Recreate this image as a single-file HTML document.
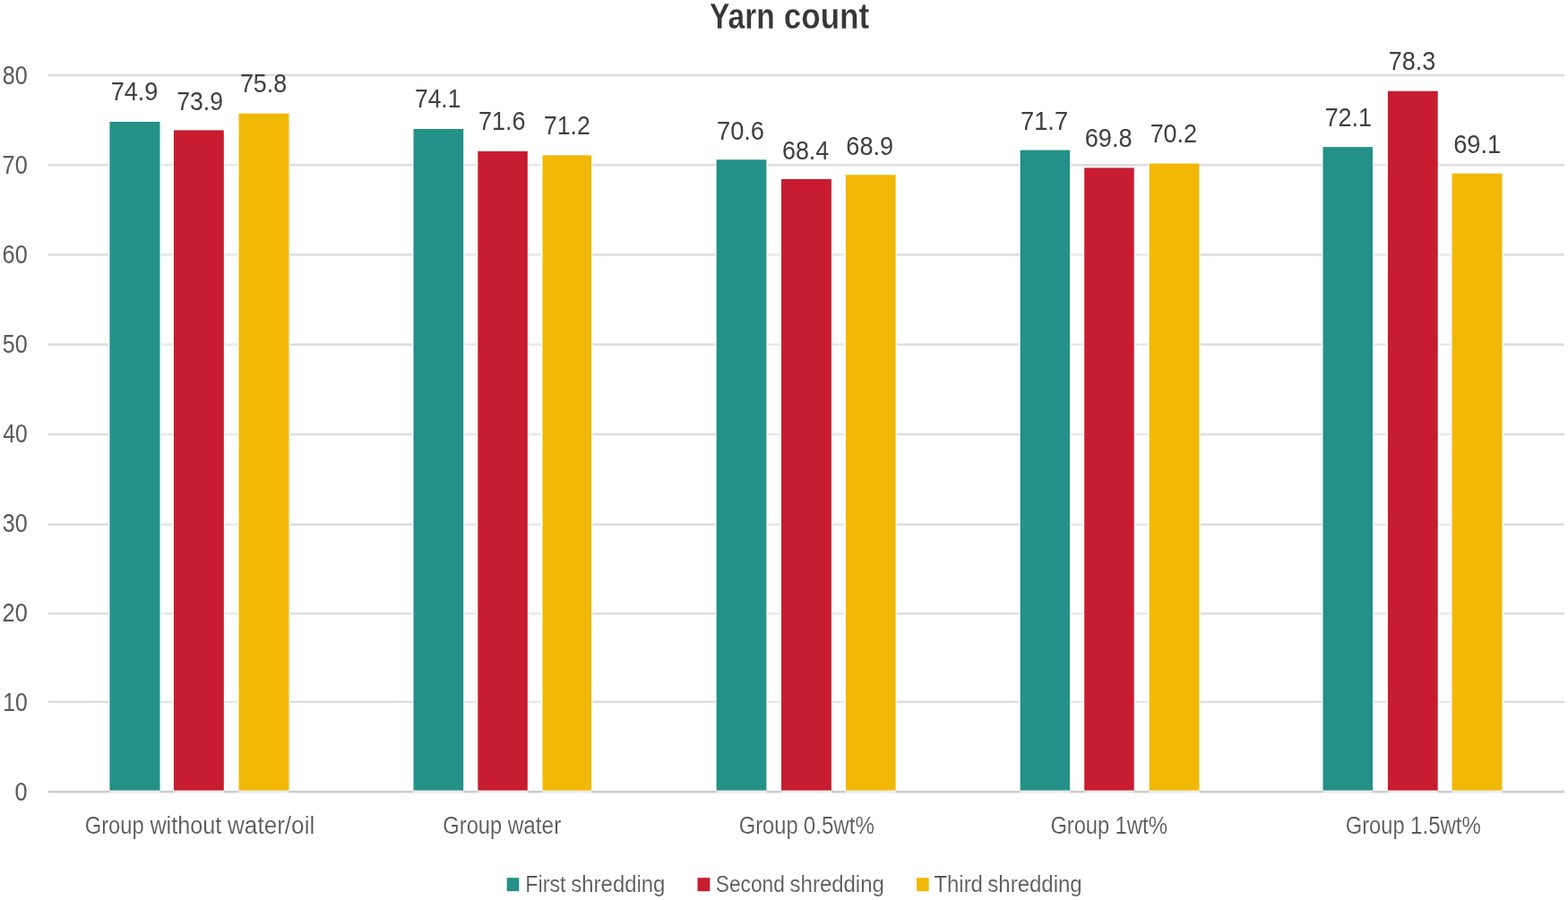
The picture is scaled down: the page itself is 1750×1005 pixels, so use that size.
<!DOCTYPE html>
<html lang="en">
<head>
<meta charset="utf-8">
<title>Yarn count</title>
<style>
html,body{margin:0;padding:0;background:#fff;}
body{width:1750px;height:1005px;overflow:hidden;}
svg{display:block;}
text{font-family:"Liberation Sans",sans-serif;}
</style>
</head>
<body>
<svg width="1750" height="1005" viewBox="0 0 1750 1005" role="img" aria-label="Yarn count bar chart">
<rect x="0" y="0" width="1750" height="1005" fill="#ffffff"/>
<g fill="#dedede">
<rect x="53.8" y="82.7" width="1692.2" height="2.6"/>
<rect x="53.8" y="183" width="1692.2" height="2.6"/>
<rect x="53.8" y="283.1" width="1692.2" height="2.6"/>
<rect x="53.8" y="383.4" width="1692.2" height="2.6"/>
<rect x="53.8" y="483.7" width="1692.2" height="2.6"/>
<rect x="53.8" y="584.35" width="1692.2" height="2.6"/>
<rect x="53.8" y="683.8" width="1692.2" height="2.6"/>
<rect x="53.8" y="782.5" width="1692.2" height="2.6"/>
</g>
<rect x="53.8" y="882.85" width="1692.2" height="2.6" fill="#cdcdcd"/>
<g fill="#ffffff">
<rect x="121.2" y="134.8" width="58.5" height="747.8"/>
<rect x="192.7" y="144.2" width="58.3" height="738.4"/>
<rect x="265.3" y="125.5" width="58.4" height="757.1"/>
<rect x="460.3" y="142.8" width="58.1" height="739.8"/>
<rect x="532.1" y="167.7" width="57.9" height="714.9"/>
<rect x="604.3" y="172.2" width="57" height="710.4"/>
<rect x="798.4" y="177.1" width="58.2" height="705.5"/>
<rect x="870.8" y="198.8" width="58.3" height="683.8"/>
<rect x="942.7" y="194.1" width="58.1" height="688.5"/>
<rect x="1137.4" y="166.4" width="57.8" height="716.2"/>
<rect x="1209" y="186.2" width="57.9" height="696.4"/>
<rect x="1281.4" y="181.4" width="58.2" height="701.2"/>
<rect x="1475.3" y="162.9" width="57.9" height="719.7"/>
<rect x="1547.7" y="100.5" width="58.2" height="782.1"/>
<rect x="1619.3" y="192.5" width="58.4" height="690.1"/>
</g>
<g fill="#ffffff" fill-opacity="0.35">
<rect x="178.5" y="145.4" width="15.4" height="737.2"/>
<rect x="249.8" y="145.4" width="16.7" height="737.2"/>
<rect x="517.2" y="168.9" width="16.1" height="713.7"/>
<rect x="588.8" y="173.4" width="16.7" height="709.2"/>
<rect x="855.4" y="200" width="16.6" height="682.6"/>
<rect x="927.9" y="200" width="16" height="682.6"/>
<rect x="1194" y="187.4" width="16.2" height="695.2"/>
<rect x="1265.7" y="187.4" width="16.9" height="695.2"/>
<rect x="1532" y="164.1" width="16.9" height="718.5"/>
<rect x="1604.7" y="193.7" width="15.8" height="688.9"/>
</g>
<g fill="#ffffff" fill-opacity="0.6">
<rect x="122.4" y="882.6" width="56.1" height="4"/>
<rect x="193.9" y="882.6" width="55.9" height="4"/>
<rect x="266.5" y="882.6" width="56" height="4"/>
<rect x="461.5" y="882.6" width="55.7" height="4"/>
<rect x="533.3" y="882.6" width="55.5" height="4"/>
<rect x="605.5" y="882.6" width="54.6" height="4"/>
<rect x="799.6" y="882.6" width="55.8" height="4"/>
<rect x="872" y="882.6" width="55.9" height="4"/>
<rect x="943.9" y="882.6" width="55.7" height="4"/>
<rect x="1138.6" y="882.6" width="55.4" height="4"/>
<rect x="1210.2" y="882.6" width="55.5" height="4"/>
<rect x="1282.6" y="882.6" width="55.8" height="4"/>
<rect x="1476.5" y="882.6" width="55.5" height="4"/>
<rect x="1548.9" y="882.6" width="55.8" height="4"/>
<rect x="1620.5" y="882.6" width="56" height="4"/>
</g>
<g fill="#239187">
<rect x="122.4" y="136" width="56.1" height="746.6"/>
<rect x="461.5" y="144" width="55.7" height="738.6"/>
<rect x="799.6" y="178.3" width="55.8" height="704.3"/>
<rect x="1138.6" y="167.6" width="55.4" height="715"/>
<rect x="1476.5" y="164.1" width="55.5" height="718.5"/>
</g>
<g fill="#c81c30">
<rect x="193.9" y="145.4" width="55.9" height="737.2"/>
<rect x="533.3" y="168.9" width="55.5" height="713.7"/>
<rect x="872" y="200" width="55.9" height="682.6"/>
<rect x="1210.2" y="187.4" width="55.5" height="695.2"/>
<rect x="1548.9" y="101.7" width="55.8" height="780.9"/>
</g>
<g fill="#f2b807">
<rect x="266.5" y="126.7" width="56" height="755.9"/>
<rect x="605.5" y="173.4" width="54.6" height="709.2"/>
<rect x="943.9" y="195.3" width="55.7" height="687.3"/>
<rect x="1282.6" y="182.6" width="55.8" height="700"/>
<rect x="1620.5" y="193.7" width="56" height="688.9"/>
</g>
<rect x="565.7" y="980.2" width="13.6" height="15" fill="#239187"/>
<rect x="778.5" y="980.2" width="13.8" height="15" fill="#c81c30"/>
<rect x="1022.9" y="980.2" width="13.8" height="15" fill="#f2b807"/>
<text y="32.2" font-size="40.6" font-weight="bold" fill="#373737" stroke="#ffffff" stroke-width="0.3"><tspan x="791.98" textLength="72.88" lengthAdjust="spacingAndGlyphs">Yarn</tspan> <tspan x="874.7" textLength="95.49" lengthAdjust="spacingAndGlyphs">count</tspan></text>
<text y="94" font-size="28.8" fill="#5a5a5a"><tspan x="2.81" textLength="27.89" lengthAdjust="spacingAndGlyphs">80</tspan></text>
<text y="194" font-size="28.8" fill="#5a5a5a"><tspan x="2.58" textLength="28.12" lengthAdjust="spacingAndGlyphs">70</tspan></text>
<text y="294" font-size="28.8" fill="#5a5a5a"><tspan x="2.58" textLength="28.12" lengthAdjust="spacingAndGlyphs">60</tspan></text>
<text y="394" font-size="28.8" fill="#5a5a5a"><tspan x="2.81" textLength="27.89" lengthAdjust="spacingAndGlyphs">50</tspan></text>
<text y="494" font-size="28.8" fill="#5a5a5a"><tspan x="3.26" textLength="27.43" lengthAdjust="spacingAndGlyphs">40</tspan></text>
<text y="594" font-size="28.8" fill="#5a5a5a"><tspan x="2.81" textLength="27.89" lengthAdjust="spacingAndGlyphs">30</tspan></text>
<text y="694" font-size="28.8" fill="#5a5a5a"><tspan x="2.58" textLength="28.12" lengthAdjust="spacingAndGlyphs">20</tspan></text>
<text y="794" font-size="28.8" fill="#5a5a5a"><tspan x="3.17" textLength="27.52" lengthAdjust="spacingAndGlyphs">10</tspan></text>
<text y="894" font-size="28.8" fill="#5a5a5a"><tspan x="16.62" textLength="14.07" lengthAdjust="spacingAndGlyphs">0</tspan></text>
<text y="112.3" font-size="29.8" fill="#404040"><tspan x="123.64" textLength="52.73" lengthAdjust="spacingAndGlyphs">74.9</tspan></text>
<text y="123.3" font-size="29.8" fill="#404040"><tspan x="197.26" textLength="51.67" lengthAdjust="spacingAndGlyphs">73.9</tspan></text>
<text y="102.8" font-size="29.8" fill="#404040"><tspan x="267.95" textLength="52.17" lengthAdjust="spacingAndGlyphs">75.8</tspan></text>
<text y="120.4" font-size="29.8" fill="#404040"><tspan x="462.97" textLength="51.46" lengthAdjust="spacingAndGlyphs">74.1</tspan></text>
<text y="145.1" font-size="29.8" fill="#404040"><tspan x="534.04" textLength="52.49" lengthAdjust="spacingAndGlyphs">71.6</tspan></text>
<text y="150" font-size="29.8" fill="#404040"><tspan x="606.96" textLength="51.78" lengthAdjust="spacingAndGlyphs">71.2</tspan></text>
<text y="156.1" font-size="29.8" fill="#404040"><tspan x="800.03" textLength="53.01" lengthAdjust="spacingAndGlyphs">70.6</tspan></text>
<text y="178" font-size="29.8" fill="#404040"><tspan x="872.95" textLength="52.33" lengthAdjust="spacingAndGlyphs">68.4</tspan></text>
<text y="173.3" font-size="29.8" fill="#404040"><tspan x="944.34" textLength="52.73" lengthAdjust="spacingAndGlyphs">68.9</tspan></text>
<text y="145.4" font-size="29.8" fill="#404040"><tspan x="1139.03" textLength="53.04" lengthAdjust="spacingAndGlyphs">71.7</tspan></text>
<text y="164.4" font-size="29.8" fill="#404040"><tspan x="1210.73" textLength="52.8" lengthAdjust="spacingAndGlyphs">69.8</tspan></text>
<text y="159.4" font-size="29.8" fill="#404040"><tspan x="1283.65" textLength="52.31" lengthAdjust="spacingAndGlyphs">70.2</tspan></text>
<text y="141.1" font-size="29.8" fill="#404040"><tspan x="1478.64" textLength="52.41" lengthAdjust="spacingAndGlyphs">72.1</tspan></text>
<text y="78.2" font-size="29.8" fill="#404040"><tspan x="1549.74" textLength="52.59" lengthAdjust="spacingAndGlyphs">78.3</tspan></text>
<text y="170.6" font-size="29.8" fill="#404040"><tspan x="1622.13" textLength="52.94" lengthAdjust="spacingAndGlyphs">69.1</tspan></text>
<text y="931.3" font-size="27" fill="#5a5a5a" stroke="#ffffff" stroke-width="0.15"><tspan x="94.7" textLength="65.92" lengthAdjust="spacingAndGlyphs">Group</tspan> <tspan x="167.4" textLength="79.86" lengthAdjust="spacingAndGlyphs">without</tspan> <tspan x="254" textLength="97.24" lengthAdjust="spacingAndGlyphs">water/oil</tspan></text>
<text y="931.3" font-size="27" fill="#5a5a5a" stroke="#ffffff" stroke-width="0.15"><tspan x="494.3" textLength="65.92" lengthAdjust="spacingAndGlyphs">Group</tspan> <tspan x="566.7" textLength="59.58" lengthAdjust="spacingAndGlyphs">water</tspan></text>
<text y="931.3" font-size="27" fill="#5a5a5a" stroke="#ffffff" stroke-width="0.15"><tspan x="824.8" textLength="65.81" lengthAdjust="spacingAndGlyphs">Group</tspan> <tspan x="896.81" textLength="79.13" lengthAdjust="spacingAndGlyphs">0.5wt%</tspan></text>
<text y="931.3" font-size="27" fill="#5a5a5a" stroke="#ffffff" stroke-width="0.15"><tspan x="1172.4" textLength="65.81" lengthAdjust="spacingAndGlyphs">Group</tspan> <tspan x="1244.42" textLength="58.69" lengthAdjust="spacingAndGlyphs">1wt%</tspan></text>
<text y="931.3" font-size="27" fill="#5a5a5a" stroke="#ffffff" stroke-width="0.15"><tspan x="1501.7" textLength="65.92" lengthAdjust="spacingAndGlyphs">Group</tspan> <tspan x="1574.12" textLength="78.81" lengthAdjust="spacingAndGlyphs">1.5wt%</tspan></text>
<text y="996.3" font-size="26.6" fill="#5a5a5a" stroke="#ffffff" stroke-width="0.15"><tspan x="586.33" textLength="45.25" lengthAdjust="spacingAndGlyphs">First</tspan> <tspan x="637.33" textLength="105.11" lengthAdjust="spacingAndGlyphs">shredding</tspan></text>
<text y="996.3" font-size="26.6" fill="#5a5a5a" stroke="#ffffff" stroke-width="0.15"><tspan x="798.83" textLength="76.92" lengthAdjust="spacingAndGlyphs">Second</tspan> <tspan x="881.62" textLength="105.21" lengthAdjust="spacingAndGlyphs">shredding</tspan></text>
<text y="996.3" font-size="26.6" fill="#5a5a5a" stroke="#ffffff" stroke-width="0.15"><tspan x="1042.45" textLength="54.48" lengthAdjust="spacingAndGlyphs">Third</tspan> <tspan x="1102.32" textLength="105.41" lengthAdjust="spacingAndGlyphs">shredding</tspan></text>
</svg>
</body>
</html>
